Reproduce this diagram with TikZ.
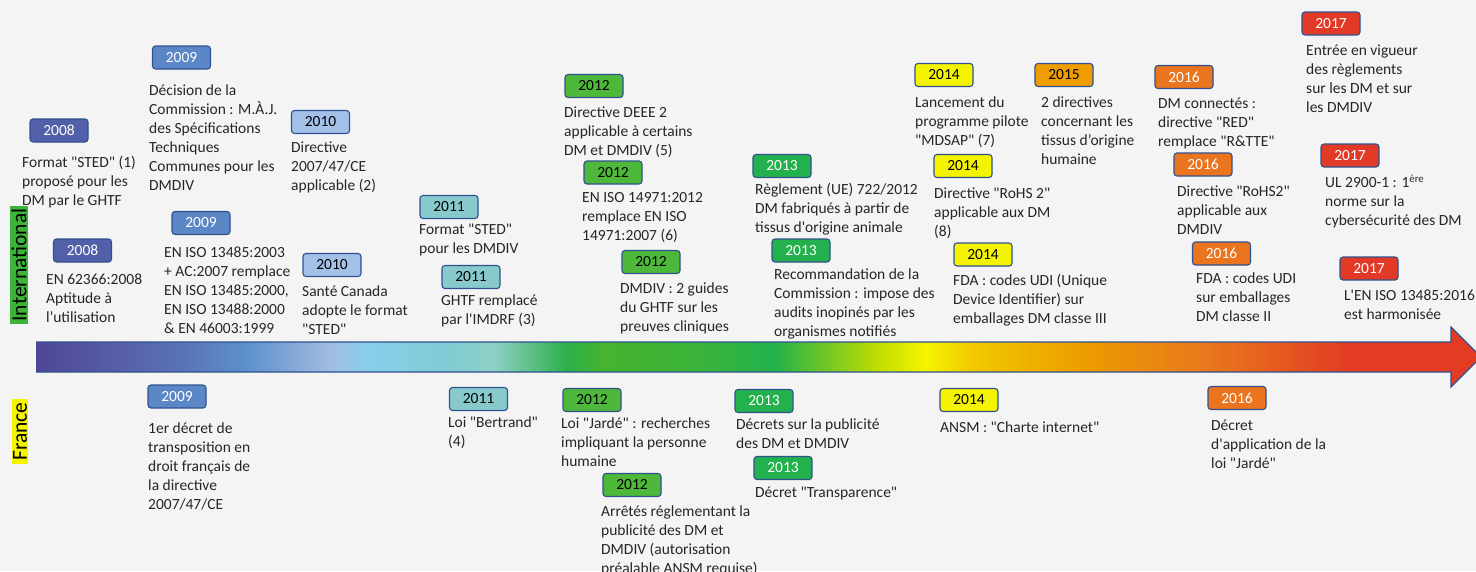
\documentclass[tikz,border=0pt]{standalone}
\usepackage{fontspec}
\newfontfamily\evfont{Carlito}
\definecolor{bg}{HTML}{F4F4F4}
\definecolor{edge}{HTML}{2F528F}
\definecolor{c08}{HTML}{5160A9}
\definecolor{c09}{HTML}{5B87C6}
\definecolor{c10}{HTML}{A3C1E8}
\definecolor{c11}{HTML}{88CACC}
\definecolor{c12}{HTML}{4DB83A}
\definecolor{c13}{HTML}{22B14C}
\definecolor{c14}{HTML}{F4F400}
\definecolor{c15}{HTML}{EE9C00}
\definecolor{c16}{HTML}{EB741F}
\definecolor{c17}{HTML}{E23A26}
\definecolor{intl}{HTML}{3DB33A}
\definecolor{fr}{HTML}{F4F400}
% colour stops of the time line
\definecolor{a1}{HTML}{4F4696}
\definecolor{a2}{HTML}{5A6DB4}
\definecolor{a3}{HTML}{5B8FCB}
\definecolor{a4}{HTML}{A3BCE2}
\definecolor{a5}{HTML}{87CEEB}
\definecolor{a6}{HTML}{80CCD5}
\definecolor{a7}{HTML}{8FD0C5}
\definecolor{a8}{HTML}{2DB04A}
\definecolor{a9}{HTML}{46B42E}
\definecolor{a10}{HTML}{3AB43A}
\definecolor{a11}{HTML}{22B14C}
\definecolor{a12}{HTML}{C0DC00}
\definecolor{a13}{HTML}{F5F500}
\definecolor{a14}{HTML}{F2C800}
\definecolor{a15}{HTML}{EC9A00}
\definecolor{a16}{HTML}{E8781E}
\definecolor{a17}{HTML}{E23C22}
\tikzstyle{yearbox} = [rectangle, rounded corners=3pt, minimum width=58pt, minimum height=23pt, inner sep=0pt, draw=edge, line width=1.1pt, font=\evfont\fontsize{15.5}{19}\selectfont]
\tikzstyle{y08} = [yearbox, fill=c08, text=white]
\tikzstyle{y09} = [yearbox, fill=c09, text=white]
\tikzstyle{y10} = [yearbox, fill=c10, text=black]
\tikzstyle{y11} = [yearbox, fill=c11, text=black]
\tikzstyle{y12} = [yearbox, fill=c12, text=black]
\tikzstyle{y13} = [yearbox, fill=c13, text=white]
\tikzstyle{y14} = [yearbox, fill=c14, text=black]
\tikzstyle{y15} = [yearbox, fill=c15, text=black]
\tikzstyle{y16} = [yearbox, fill=c16, text=white]
\tikzstyle{y17} = [yearbox, fill=c17, text=white]
\tikzstyle{event} = [anchor=north west, inner sep=0pt, align=left, yshift=-10pt, text=black!85, font=\evfont\fontsize{15.5}{19}\selectfont]
\tikzstyle{lane} = [rotate=90, inner xsep=3pt, inner ysep=1.5pt, text=black, font=\evfont\fontsize{21.5}{24}\selectfont]
\begin{document}
\begin{tikzpicture}[x=1pt,y=-1pt]
\useasboundingbox (0,0) rectangle (1476,571);
\fill[bg] (0,0) rectangle (1476,571);

% time line
\begin{scope}
\clip (36,342) -- (1451,342) -- (1451,327) -- (1481,357) -- (1451,387) -- (1451,372) -- (36,372) -- cycle;
\foreach \xa/\ca/\xb/\cb in {36/a1/165/a2, 165/a2/245/a3, 245/a3/330/a4, 330/a4/368/a5, 368/a5/448/a6, 448/a6/495/a7, 495/a7/566/a8, 566/a8/604/a9, 604/a9/700/a10, 700/a10/774/a11, 774/a11/877/a12, 877/a12/925/a13, 925/a13/972/a14, 972/a14/1090/a15, 1090/a15/1208/a16, 1208/a16/1349/a17, 1349/a17/1485/a17}
  \shade[left color=\ca, right color=\cb] (\xa-0.5,320) rectangle (\xb+0.5,395);
\end{scope}
\draw[edge, line width=1.2pt] (36,342) -- (1451,342) -- (1451,327) -- (1481,357) -- (1451,387) -- (1451,372) -- (36,372);

% lanes
\node (intl) [lane, fill=intl] at (19,265) {International};
\node (fr) [lane, fill=fr] at (20,431.5) {France};

% international
\node (y08a) [y08] at (59,130.5) {2008};
\node (t08a) [event] at (22,144) {\strut Format "STED" (1)\\proposé pour les\\DM par le GHTF};
\node (y09a) [y09] at (181.5,57.5) {2009};
\node (t09a) [event] at (149,72) {\strut Décision de la\\Commission : M.À.J.\\des Spécifications\\Techniques\\Communes pour les\\DMDIV};
\node (y08b) [y08] at (82.5,250.5) {2008};
\node (t08b) [event] at (46,261) {\strut EN 62366:2008\\Aptitude à\\l’utilisation};
\node (y09b) [y09] at (201,223) {2009};
\node (t09b) [event] at (164,234) {\strut EN ISO 13485:2003\\+ AC:2007 remplace\\EN ISO 13485:2000,\\EN ISO 13488:2000\\\& EN 46003:1999};
\node (y10a) [y10] at (320.5,122) {2010};
\node (t10a) [event] at (291,129) {\strut Directive\\2007/47/CE\\applicable (2)};
\node (y10b) [y10] at (332,265) {2010};
\node (t10b) [event] at (302,273) {\strut Santé Canada\\adopte le format\\"STED"};
\node (y11a) [y11] at (449,207) {2011};
\node (t11a) [event] at (419,211) {\strut Format "STED"\\pour les DMDIV};
\node (y11b) [y11] at (471,277) {2011};
\node (t11b) [event] at (441,282) {\strut GHTF remplacé\\par l'IMDRF (3)};
\node (y12a) [y12] at (594,86) {2012};
\node (t12a) [event] at (564,94) {\strut Directive DEEE 2\\applicable à certains\\DM et DMDIV (5)};
\node (y12b) [y12] at (613,172.5) {2012};
\node (t12b) [event] at (582,179) {\strut EN ISO 14971:2012\\remplace EN ISO\\14971:2007 (6)};
\node (y12c) [y12] at (651,262) {2012};
\node (t12c) [event] at (620,270) {\strut DMDIV : 2 guides\\du GHTF sur les\\preuves cliniques};
\node (y13a) [y13] at (782,166) {2013};
\node (t13a) [event] at (755,171) {\strut Règlement (UE) 722/2012\\DM fabriqués à partir de\\tissus d'origine animale};
\node (y13b) [y13] at (801,250.5) {2013};
\node (t13b) [event] at (774,256) {\strut Recommandation de la\\Commission : impose des\\audits inopinés par les\\organismes notifiés};
\node (y14a) [y14] at (944,75) {2014};
\node (t14a) [event] at (915,84) {\strut Lancement du\\programme pilote\\"MDSAP" (7)};
\node (y15) [y15] at (1064,75) {2015};
\node (t15) [event] at (1041,84) {\strut 2 directives\\concernant les\\tissus d’origine\\humaine};
\node (y14b) [y14] at (963,166) {2014};
\node (t14b) [event] at (934,175) {\strut Directive "RoHS 2"\\applicable aux DM\\(8)};
\node (y14c) [y14] at (983,254.5) {2014};
\node (t14c) [event] at (953,262) {\strut FDA : codes UDI (Unique\\Device Identifier) sur\\emballages DM classe III};
\node (y16a) [y16] at (1184,77) {2016};
\node (t16a) [event] at (1158,85) {\strut DM connectés :\\directive "RED"\\remplace "R\&TTE"};
\node (y16b) [y16] at (1203,164.5) {2016};
\node (t16b) [event] at (1177,173) {\strut Directive "RoHS2"\\applicable aux\\DMDIV};
\node (y16c) [y16] at (1221.5,253.5) {2016};
\node (t16c) [event] at (1196,260) {\strut FDA : codes UDI\\sur emballages\\DM classe II};
\node (y17a) [y17] at (1331,23.5) {2017};
\node (t17a) [event] at (1306,32) {\strut Entrée en vigueur\\des règlements\\sur les DM et sur\\les DMDIV};
\node (y17b) [y17] at (1350,155.5) {2017};
\node (t17b) [event] at (1325,164) {\strut UL 2900-1 : 1\textsuperscript{ère}\\norme sur la\\cybersécurité des DM};
\node (y17c) [y17] at (1369,268.5) {2017};
\node (t17c) [event] at (1344,277) {\strut L'EN ISO 13485:2016\\est harmonisée};

% France
\node (f09y) [y09] at (177,396.5) {2009};
\node (f09t) [event] at (148,410) {\strut 1er décret de\\transposition en\\droit français de\\la directive\\2007/47/CE};
\node (f11y) [y11] at (478.5,399) {2011};
\node (f11t) [event] at (448,404) {\strut Loi "Bertrand"\\(4)};
\node (f12ay) [y12] at (592,400) {2012};
\node (f12at) [event] at (561,405) {\strut Loi "Jardé" : recherches\\impliquant la personne\\humaine};
\node (f12by) [y12] at (632,485) {2012};
\node (f12bt) [event] at (601,493) {\strut Arrêtés réglementant la\\publicité des DM et\\DMDIV (autorisation\\préalable ANSM requise)};
\node (f13ay) [y13] at (764,401) {2013};
\node (f13at) [event] at (736,406) {\strut Décrets sur la publicité\\des DM et DMDIV};
\node (f13by) [y13] at (783,468) {2013};
\node (f13bt) [event] at (755,474) {\strut Décret "Transparence"};
\node (f14y) [y14] at (969,400) {2014};
\node (f14t) [event] at (940,409) {\strut ANSM : "Charte internet"};
\node (f16y) [y16] at (1237,398) {2016};
\node (f16t) [event] at (1211,407) {\strut Décret\\d'application de la\\loi "Jardé"};
\end{tikzpicture}
\end{document}
